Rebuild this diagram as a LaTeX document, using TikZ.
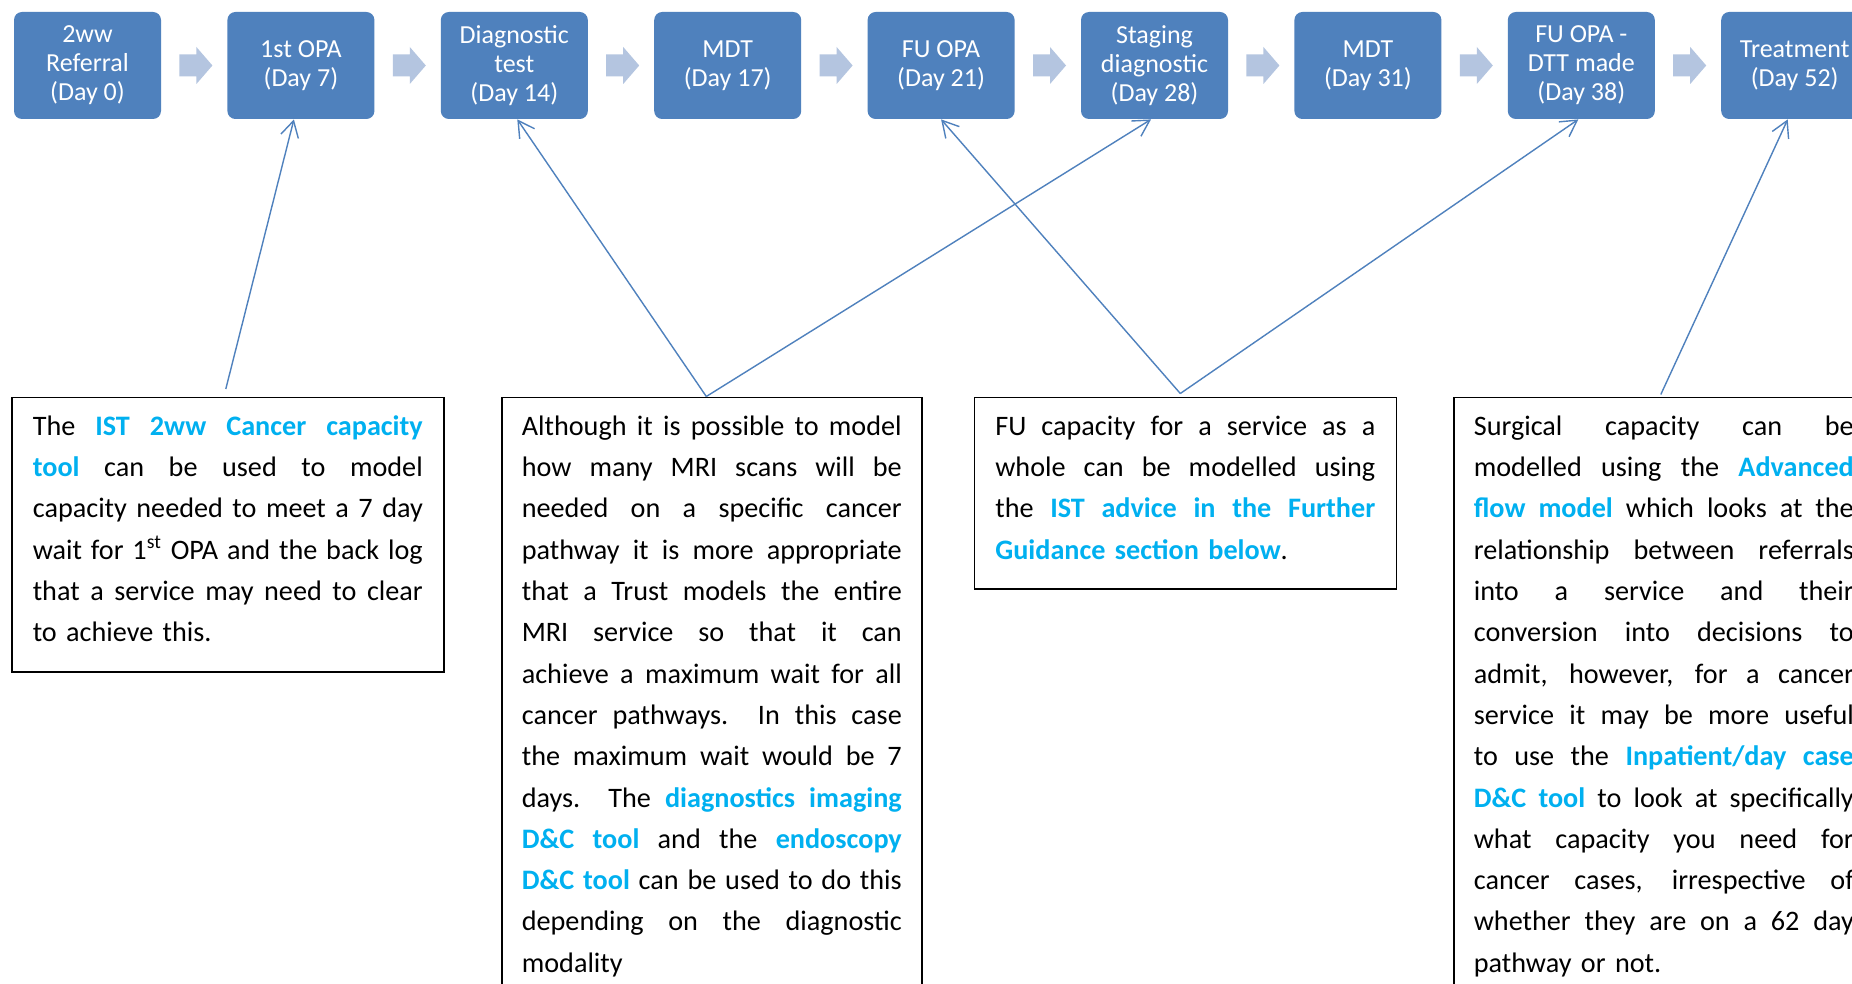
\documentclass[tikz,border=0pt]{standalone}
\usepackage{fontspec}
\setmainfont{Carlito}
\usetikzlibrary{arrows.meta,calc}

\definecolor{stagefill}{RGB}{79,129,189}
\definecolor{chevfill}{RGB}{180,197,224}
\definecolor{linkblue}{RGB}{0,176,240}

% highlighted tool names
\newcommand\lk[1]{\textbf{\textcolor{linkblue}{#1}}}
% one fully justified line of a note: spaces stretch evenly to the full width
\newcommand\jl[1]{{\spaceskip=0.226em plus 1fil minus 0.08em\relax
  \makebox[\hsize][s]{#1}}}
% spacing above the first and below the last line of a note
\newcommand\firststrut{\rule{0pt}{19pt}}
\newcommand\laststrut[1]{\rule[-#1]{0pt}{0pt}}

\begin{document}
\begin{tikzpicture}[x=0.5pt,y=-0.5pt,
  stage/.style={fill=stagefill, rounded corners=4pt, minimum width=73.5pt,
    minimum height=53.5pt, inner sep=0pt, text=white, align=center,
    font=\fontsize{13}{14.5}\selectfont},
  note/.style={draw=black, line width=0.8pt, anchor=north west, inner ysep=0pt,
    align=left, font=\fontsize{14.1}{20.65}\selectfont},
  link/.style={draw=stagefill, line width=0.7pt,
    -{Straight Barb[length=8pt,width=9pt]}},
  pics/chev/.style={code={\fill[chevfill] (0,-11) -- (17,-11) -- (17,-18.5)
    -- (33,0) -- (17,18.5) -- (17,11) -- (0,11) -- cycle;}}
]
\clip (0,0) rectangle (1852,984);
\fill[white] (0,0) rectangle (1852,984);

% pathway stages
\node[stage] (b1) at (87.5,65.5)  {2ww\\Referral\\(Day 0)};
\node[stage] (b2) at (300.9,65.5) {1st OPA\\(Day 7)};
\node[stage] (b3) at (514.3,65.5) {Diagnostic\\test\\(Day 14)};
\node[stage] (b4) at (727.7,65.5) {MDT\\(Day 17)};
\node[stage] (b5) at (941.1,65.5) {FU OPA\\(Day 21)};
\node[stage] (b6) at (1154.5,65.5) {Staging\\diagnostic\\(Day 28)};
\node[stage] (b7) at (1367.9,65.5) {MDT\\(Day 31)};
\node[stage] (b8) at (1581.3,65.5) {FU OPA -\\DTT made\\(Day 38)};
\node[stage] (b9) at (1794.7,65.5) {Treatment\\(Day 52)};

% chevrons between stages
\foreach \s in {1,...,8}{
  \pic at ($(b\s.east)+(18,0)$) {chev};
}

% notes
\node[note, text width=195pt, inner xsep=10.5pt] (tA) at (11,396.5) {%
\jl{\firststrut The \lk{IST 2ww Cancer capacity}}\\
\jl{\lk{tool} can be used to model}\\
\jl{capacity needed to meet a 7 day}\\
\jl{wait for 1\textsuperscript{st} OPA and the back log}\\
\jl{that a service may need to clear}\\
to achieve this.\laststrut{15pt}};

\node[note, text width=190pt, inner xsep=10pt] (tB) at (501,396.5) {%
\jl{\firststrut Although it is possible to model}\\
\jl{how many MRI scans will be}\\
\jl{needed on a specific cancer}\\
\jl{pathway it is more appropriate}\\
\jl{that a Trust models the entire}\\
\jl{MRI service so that it can}\\
\jl{achieve a maximum wait for all}\\
\jl{cancer pathways.\ \ In this case}\\
\jl{the maximum wait would be 7}\\
\jl{days.\ \ The \lk{diagnostics imaging}}\\
\jl{\lk{D\&C tool} and the \lk{endoscopy}}\\
\jl{\lk{D\&C tool} can be used to do this}\\
\jl{depending on the diagnostic}\\
modality\laststrut{40pt}};

\node[note, text width=190pt, inner xsep=10.5pt] (tC) at (973.5,396.5) {%
\jl{\firststrut FU capacity for a service as a}\\
\jl{whole can be modelled using}\\
\jl{the \lk{IST advice in the Further}}\\
\lk{Guidance section below}.\laststrut{15pt}};

\node[note, text width=190pt, inner xsep=10pt] (tD) at (1453,396.5) {%
\jl{\firststrut Surgical capacity can be}\\
\jl{modelled using the \lk{Advanced}}\\
\jl{\lk{flow model} which looks at the}\\
\jl{relationship between referrals}\\
\jl{into a service and their}\\
\jl{conversion into decisions to}\\
\jl{admit, however, for a cancer}\\
\jl{service it may be more useful}\\
\jl{to use the \lk{Inpatient/day case}}\\
\jl{\lk{D\&C tool} to look at specifically}\\
\jl{what capacity you need for}\\
\jl{cancer cases, irrespective of}\\
\jl{whether they are on a 62 day}\\
pathway or not.\laststrut{40pt}};

% connector ends
\coordinate (cA) at ($(tA.north)+(-2,-7.5)$);
\coordinate (cB) at ($(tB.north)+(-5.5,0)$);
\coordinate (cC) at ($(tC.north)+(-5,-3)$);
\coordinate (cD) at ($(tD.north)+(-3,-2)$);
\coordinate (e2) at ($(b2.south)+(-7,0)$);
\coordinate (e3) at ($(b3.south)+(3,0)$);
\coordinate (e5) at (b5.south);
\coordinate (e6) at ($(b6.south)+(-3.5,0)$);
\coordinate (e8) at ($(b8.south)+(-3,0)$);
\coordinate (e9) at ($(b9.south)+(-7,0)$);

% connectors from notes to stages
\draw[link] (cA) -- (e2);
\draw[link] (cB) -- (e3);
\draw[link] (cB) -- (e6);
\draw[link] (cC) -- (e5);
\draw[link] (cC) -- (e8);
\draw[link] (cD) -- (e9);
\end{tikzpicture}
\end{document}
